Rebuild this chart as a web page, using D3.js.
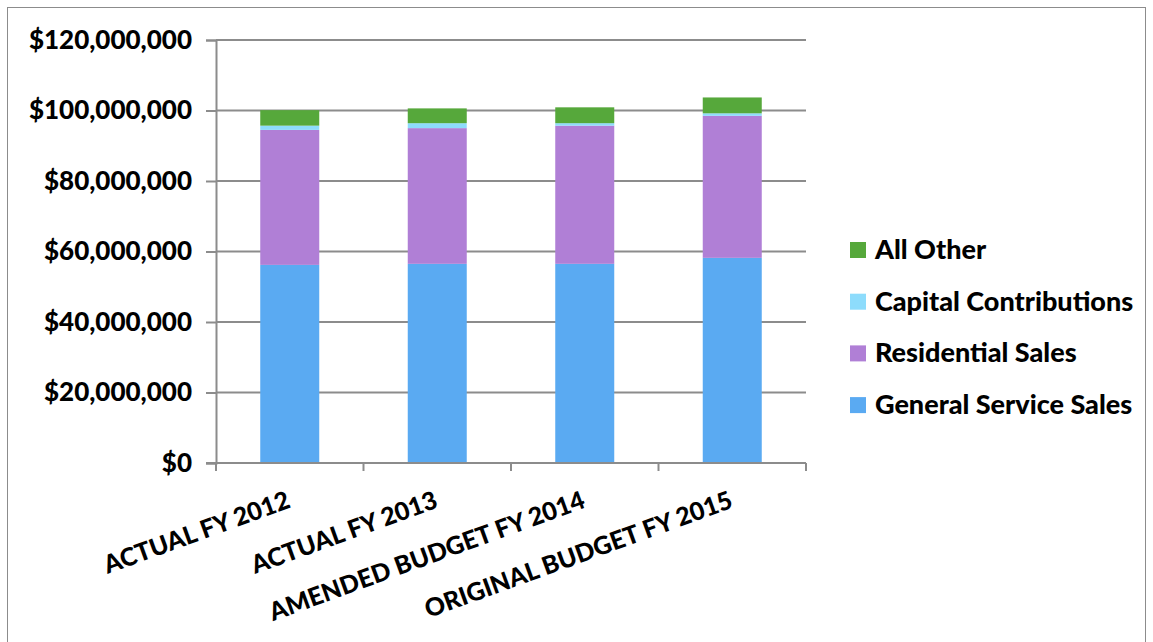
<!DOCTYPE html>
<html>
<head>
<meta charset="utf-8">
<script src="https://cdn.jsdelivr.net/npm/d3@7"></script>
<style>
  body { margin: 0; background: #fff; }
  text { font-family: Lato, "Open Sans", sans-serif; font-weight: bold; fill: #000; }
</style>
</head>
<body>
<script>
let width = 1153
let height = 642

// data (values in dollars)
let categories = ['ACTUAL FY 2012', 'ACTUAL FY 2013', 'AMENDED BUDGET FY 2014', 'ORIGINAL BUDGET FY 2015']
let generalService = [56200000, 56500000, 56500000, 58200000]
let residential = [38300000, 38500000, 39200000, 40300000]
let capital = [1200000, 1400000, 700000, 700000]
let allOther = [4400000, 4200000, 4500000, 4500000]
let seriesNames = ['General Service Sales', 'Residential Sales', 'Capital Contributions', 'All Other']
let colors = ['#5aaaf2', '#b07fd6', '#8ddcfc', '#56a83b']
let yTicks = [0, 20000000, 40000000, 60000000, 80000000, 100000000, 120000000]

let rows = categories.map((c, i) => ({
  cat: c,
  'General Service Sales': generalService[i],
  'Residential Sales': residential[i],
  'Capital Contributions': capital[i],
  'All Other': allOther[i]
}))
let stacked = d3.stack().keys(seriesNames)(rows)

let svg = d3.select('body').append('svg')
  .attr('width', width)
  .attr('height', height)

// outer frame
svg.append('rect')
  .attr('x', 7.5).attr('y', 7.5)
  .attr('width', 1138).attr('height', 650)
  .attr('fill', 'none').attr('stroke', '#8c8c8c').attr('stroke-width', 1)

let plot = { left: 216, right: 806, top: 40, bottom: 463 }

//scales
let xScale = d3.scaleBand().domain(categories).range([plot.left, plot.right]).paddingInner(0.6).paddingOuter(0.3)
let xBand = d3.scaleBand().domain(categories).range([plot.left, plot.right])
let yScale = d3.scaleLinear().domain([0, 120000000]).range([plot.bottom, plot.top])
let colorScale = d3.scaleOrdinal().domain(seriesNames).range(colors)

// gridlines
svg.append('g')
  .selectAll('line')
  .data(yTicks.slice(1))
  .enter()
  .append('line')
  .attr('x1', plot.left).attr('x2', plot.right)
  .attr('y1', d => yScale(d)).attr('y2', d => yScale(d))
  .attr('stroke', '#8c8c8c').attr('stroke-width', 2)

// bars
svg.append('g')
  .selectAll('g')
  .data(stacked)
  .enter()
  .append('g')
  .attr('fill', d => colorScale(d.key))
  .selectAll('rect')
  .data(d => d)
  .enter()
  .append('rect')
  .attr('x', d => xScale(d.data.cat))
  .attr('width', xScale.bandwidth())
  .attr('y', d => yScale(d[1]))
  .attr('height', d => yScale(d[0]) - yScale(d[1]))

// y axis
let fmt = d => '$' + d3.format(',')(d)
let yAxis = svg.append('g')
  .attr('transform', `translate(${plot.left},0)`)
  .call(d3.axisLeft(yScale).tickValues(yTicks).tickFormat(fmt).tickSize(10).tickPadding(14))
yAxis.select('.domain').attr('stroke', '#8c8c8c').attr('stroke-width', 2)
yAxis.selectAll('.tick line').attr('stroke', '#8c8c8c').attr('stroke-width', 2)
yAxis.selectAll('.tick text')
  .style('font-size', '26px').style('font-family', 'Lato, sans-serif').style('font-weight', 900)
  .attr('fill', '#000')

// x axis
let xAxisG = svg.append('g').attr('transform', `translate(0,${plot.bottom})`)
xAxisG.append('line')
  .attr('x1', plot.left - 10).attr('x2', plot.right)
  .attr('stroke', '#8c8c8c').attr('stroke-width', 2)
xAxisG.selectAll('.xtick')
  .data(categories.concat(['end']))
  .enter()
  .append('line')
  .attr('x1', (d, i) => i < categories.length ? xBand(d) : plot.right)
  .attr('x2', (d, i) => i < categories.length ? xBand(d) : plot.right)
  .attr('y1', 0).attr('y2', 8)
  .attr('stroke', '#8c8c8c').attr('stroke-width', 2)

xAxisG.selectAll('.xlabel')
  .data(categories)
  .enter()
  .append('text')
  .attr('text-anchor', 'end')
  .attr('transform', d => `translate(${xBand(d) + xBand.bandwidth() / 2 + 2},${44}) rotate(-20)`)
  .style('font-size', '25px').style('font-weight', 900)
  .text(d => d)

// legend
let legend = svg.append('g').attr('transform', 'translate(850,250)')
let legendItems = legend.selectAll('g')
  .data(seriesNames.slice().reverse())
  .enter()
  .append('g')
  .attr('transform', (d, i) => `translate(0,${i * 51.7})`)
legendItems.append('rect')
  .attr('x', 0).attr('y', -8)
  .attr('width', 16).attr('height', 16)
  .attr('fill', d => colorScale(d))
legendItems.append('text')
  .attr('x', 25).attr('y', 9)
  .style('font-size', '27px').style('font-weight', 900)
  .text(d => d)
</script>
</body>
</html>
